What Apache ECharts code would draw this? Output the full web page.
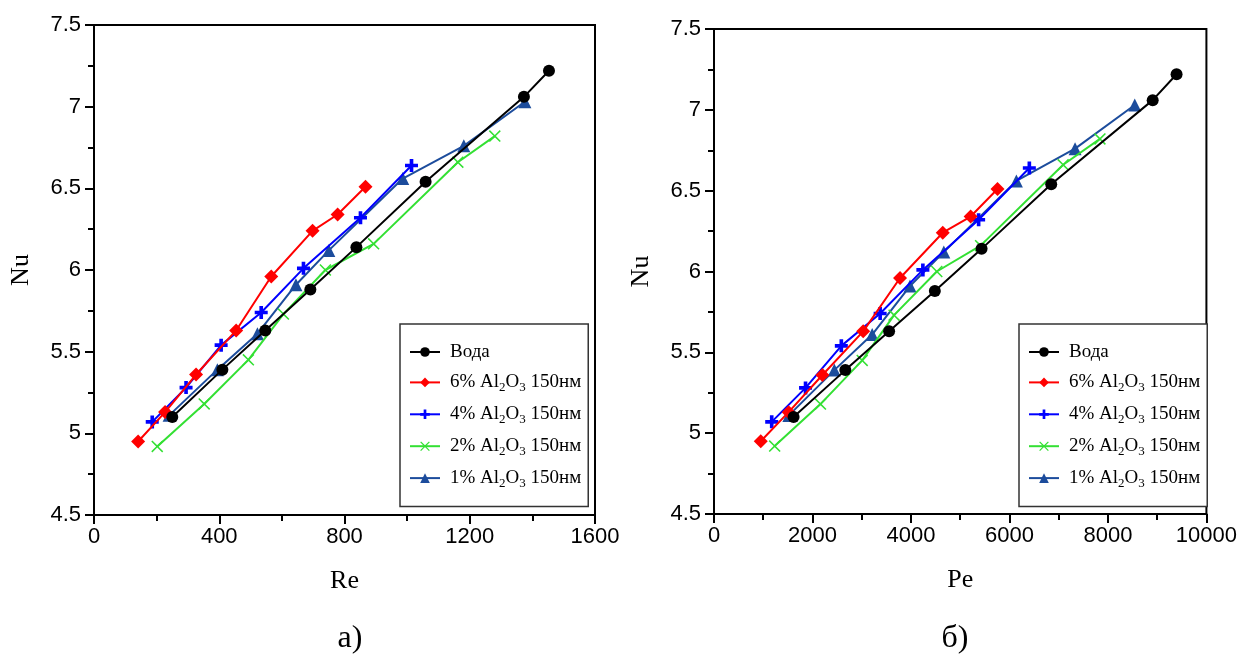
<!DOCTYPE html>
<html>
<head>
<meta charset="utf-8">
<script src="https://cdn.jsdelivr.net/npm/echarts@6/dist/echarts.min.js"></script>
<style>html,body{margin:0;padding:0;background:#fff}#c{width:1240px;height:658px}</style>
</head>
<body>
<div id="c"></div>
<script>
// ---- data ----
const seriesNames = ['Вода', '6% Al2O3 150нм', '4% Al2O3 150нм', '2% Al2O3 150нм', '1% Al2O3 150нм'];

const nuWater = [5.10, 5.39, 5.63, 5.88, 6.14, 6.54, 7.06, 7.22];
const reWater = [250, 410, 547, 691, 838, 1059, 1373, 1453];
const peWater = [1616, 2667, 3556, 4485, 5434, 6848, 8909, 9394];

const nu6 = [4.95, 5.13, 5.36, 5.63, 5.96, 6.24, 6.34, 6.51];
const re6 = [141, 227, 326, 454, 566, 698, 778, 867];
const pe6 = [949, 1515, 2202, 3030, 3778, 4646, 5212, 5758];

const nu4 = [5.07, 5.28, 5.54, 5.74, 6.01, 6.32, 6.64];
const re4 = [186, 294, 406, 534, 669, 851, 1014];
const pe4 = [1172, 1859, 2586, 3374, 4242, 5374, 6404];

const nu2 = [4.92, 5.18, 5.45, 5.73, 6.00, 6.16, 6.66, 6.82];
const re2 = [202, 352, 493, 605, 739, 893, 1162, 1280];
const pe2 = [1232, 2162, 3010, 3657, 4525, 5414, 7091, 7838];

const nu1 = [5.11, 5.39, 5.61, 5.91, 6.12, 6.56, 6.76, 7.03];
const re1 = [240, 394, 522, 645, 750, 986, 1181, 1376];
const pe1 = [1520, 2444, 3212, 3980, 4667, 6141, 7333, 8545];

const xTicksLeft = {min: 0, max: 1600, interval: 400};
const xTicksRight = {min: 0, max: 10000, interval: 2000};
const yTicks = {min: 4.5, max: 7.5, interval: 0.5};

// ---- styling ----
const colors = ['#000000', '#ff0000', '#0000ff', '#33e033', '#1c4c9c'];
const plusPath = 'path://M3.6,0H6.4V3.6H10V6.4H6.4V10H3.6V6.4H0V3.6H3.6Z';
const t = 0.9;
const xPath = 'path://M0,' + t + 'L' + t + ',0L5,' + (5 - t) + 'L' + (10 - t) + ',0L10,' + t + 'L' + (5 + t) + ',5L10,' + (10 - t) + 'L' + (10 - t) + ',10L5,' + (5 + t) + 'L' + t + ',10L0,' + (10 - t) + 'L' + (5 - t) + ',5Z';
const symbols = ['circle', 'diamond', plusPath, xPath, 'triangle'];
const symbolSizes = [12, 14, 13, 12, 13];

const sans = 'Liberation Sans, Arial, sans-serif';
const serif = 'Liberation Serif, Times New Roman, serif';

function zip(xs, ys) { return xs.map((x, i) => [x, ys[i]]); }

const leftData = [zip(reWater, nuWater), zip(re6, nu6), zip(re4, nu4), zip(re2, nu2), zip(re1, nu1)];
const rightData = [zip(peWater, nuWater), zip(pe6, nu6), zip(pe4, nu4), zip(pe2, nu2), zip(pe1, nu1)];

function makeSeries(dataSets, axisIdx) {
  return dataSets.map((d, i) => ({
    name: seriesNames[i],
    type: 'line',
    xAxisIndex: axisIdx,
    yAxisIndex: axisIdx,
    data: d,
    symbol: symbols[i],
    symbolSize: symbolSizes[i],
    showAllSymbol: true,
    color: colors[i],
    lineStyle: {color: colors[i], width: 2},
    itemStyle: {color: colors[i]},
    z: 2 + (4 - i),
    animation: false
  }));
}

const plain = v => String(v);

function xAxis(idx, ticks, name) {
  return {
    type: 'value', gridIndex: idx, min: ticks.min, max: ticks.max, interval: ticks.interval,
    name: name, nameLocation: 'middle', nameGap: 53,
    nameTextStyle: {fontFamily: serif, fontSize: 26, color: '#000'},
    axisLine: {show: true, onZero: false, lineStyle: {color: '#000', width: 2}},
    axisTick: {show: true, inside: false, length: 9, lineStyle: {color: '#000', width: 2}},
    minorTick: {show: true, splitNumber: 2, length: 6, lineStyle: {color: '#000', width: 2}},
    axisLabel: {fontFamily: sans, fontSize: 22, color: '#000', margin: 11, formatter: plain},
    splitLine: {show: false}
  };
}
function yAxis(idx, name) {
  return {
    type: 'value', gridIndex: idx, min: yTicks.min, max: yTicks.max, interval: yTicks.interval,
    name: name, nameLocation: 'middle', nameGap: 60,
    nameTextStyle: {fontFamily: serif, fontSize: 26, color: '#000'},
    axisLine: {show: true, onZero: false, lineStyle: {color: '#000', width: 2}},
    axisTick: {show: true, inside: false, length: 9, lineStyle: {color: '#000', width: 2}},
    minorTick: {show: true, splitNumber: 2, length: 6, lineStyle: {color: '#000', width: 2}},
    axisLabel: {fontFamily: sans, fontSize: 22, color: '#000', margin: 13, formatter: plain},
    splitLine: {show: false}
  };
}
function legend(left) {
  return {
    left: left, top: 324, orient: 'vertical',
    data: seriesNames,
    itemWidth: 30, itemHeight: 12, itemGap: 8.9,
    padding: [18, 7, 17, 9],
    backgroundColor: '#fff', borderColor: '#333', borderWidth: 1.5,
    selectedMode: false,
    formatter: function (n) { return n.replace('Al2O3', 'Al{s|2}O{s|3}'); },
    textStyle: {
      fontFamily: serif, fontSize: 19, color: '#000', lineHeight: 20, padding: [0, 0, 0, 5],
      rich: {s: {fontFamily: serif, fontSize: 13, color: '#000', lineHeight: 13, padding: [10, 0, 0, 0]}}
    }
  };
}

const chart = echarts.init(document.getElementById('c'), null, {renderer: 'canvas'});
chart.setOption({
  backgroundColor: '#fff',
  animation: false,
  grid: [
    {left: 94, top: 25, width: 501, height: 490, show: true, borderColor: '#000', borderWidth: 2, backgroundColor: 'transparent'},
    {left: 714, top: 29, width: 495, height: 485, show: true, borderColor: '#000', borderWidth: 2, backgroundColor: 'transparent'}
  ],
  xAxis: [xAxis(0, xTicksLeft, 'Re'), xAxis(1, xTicksRight, 'Pe')],
  yAxis: [yAxis(0, 'Nu'), yAxis(1, 'Nu')],
  legend: [legend(400), legend(1019)],
  title: [
    {text: 'а)', left: 345, top: 618, textAlign: 'center', textStyle: {fontFamily: serif, fontSize: 32, fontWeight: 'normal', color: '#000'}},
    {text: 'б)', left: 950, top: 618, textAlign: 'center', textStyle: {fontFamily: serif, fontSize: 32, fontWeight: 'normal', color: '#000'}}
  ],
  series: makeSeries(leftData, 0).concat(makeSeries(rightData, 1))
});
</script>
</body>
</html>
